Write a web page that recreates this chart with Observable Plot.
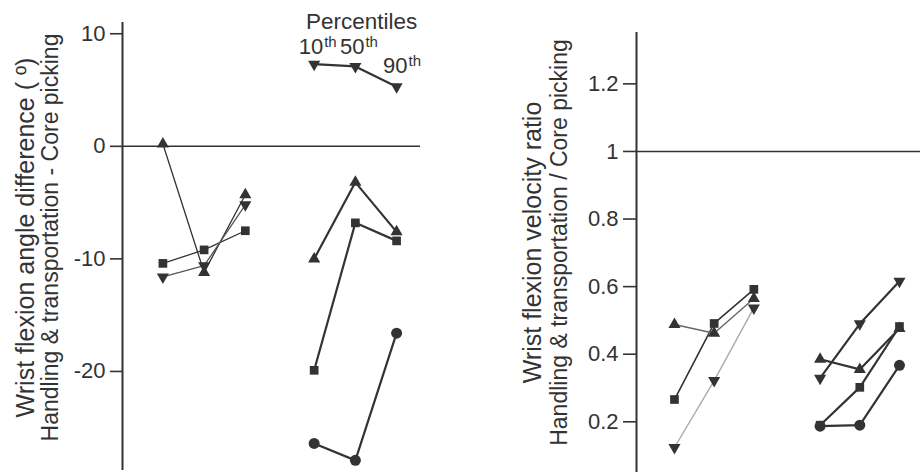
<!DOCTYPE html>
<html>
<head>
<meta charset="utf-8">
<script src="https://cdn.jsdelivr.net/npm/d3@7"></script>
<script src="https://cdn.jsdelivr.net/npm/@observablehq/plot@0.6"></script>
<style>
  body { margin: 0; background: #fff; }
  #wrap { display: flex; width: 920px; height: 472px; overflow: hidden; }
  svg { font-family: "Liberation Sans", Arial, sans-serif; }
  .tick-plot g[aria-label="y-axis tick label"] { font-size: 22px; }
</style>
</head>
<body>
<div id="wrap"></div>
<script>
// ---- categories ----
const percentiles = ["10th", "50th", "90th"];
const groups = ["A", "B"];

// ---- left panel: wrist flexion angle difference (deg) ----
const angleTicks = [10, 0, -10, -20];
const angleA_up     = [0.2, -11.2, -4.3];
const angleA_down   = [-11.6, -10.6, -5.2];
const angleA_square = [-10.4, -9.2, -7.5];
const angleB_down   = [7.3, 7.1, 5.3];
const angleB_up     = [-10.0, -3.2, -7.6];
const angleB_square = [-19.9, -6.8, -8.4];
const angleB_circle = [-26.4, -27.9, -16.6];

// ---- right panel: wrist flexion velocity ratio ----
const ratioTicks = [0.2, 0.4, 0.6, 0.8, 1, 1.2];
const ratioA_up     = [0.488, 0.462, 0.565];
const ratioA_square = [0.266, 0.491, 0.592];
const ratioA_down   = [0.124, 0.322, 0.537];
const ratioB_down   = [0.329, 0.490, 0.616];
const ratioB_up     = [0.385, 0.355, 0.476];
const ratioB_square = [0.190, 0.302, 0.482];
const ratioB_circle = [0.187, 0.190, 0.367];

// ---- layout helpers ----
const groupGap = 3.67;
const pos = (g, i) => groups.indexOf(g) * groupGap + i;
function rows(values, group, marker) {
  return values.map((v, i) => ({x: pos(group, i), y: v, group, marker, pct: percentiles[i], id: group + "-" + marker}));
}

const ink = "#333";
const font = "Liberation Sans, Arial, sans-serif";

function dots(data) {
  return [
    Plot.dot(data.filter(d => d.marker === "up"), {x: "x", y: "y", symbol: "triangle", r: 4.5, fill: ink, stroke: null}),
    Plot.dot(data.filter(d => d.marker === "down"), {x: "x", y: "y", symbol: "triangle", rotate: 180, r: 4.5, fill: ink, stroke: null}),
    Plot.dot(data.filter(d => d.marker === "square"), {x: "x", y: "y", symbol: "square", r: 4.9, fill: ink, stroke: null}),
    Plot.dot(data.filter(d => d.marker === "circle"), {x: "x", y: "y", symbol: "circle", r: 5.5, fill: ink, stroke: null})
  ];
}
function line(data, id, stroke, width) {
  return Plot.line(data.filter(d => d.id === id), {x: "x", y: "y", stroke, strokeWidth: width});
}
function yTitle(text, dx, dy, size) {
  return Plot.text([text], {frameAnchor: "left", text: d => d, rotate: -90, dx, dy, fontSize: size, fill: ink, textAnchor: "middle", lineAnchor: "middle"});
}

// ================= LEFT =================
const leftData = [
  ...rows(angleA_up, "A", "up"), ...rows(angleA_down, "A", "down"), ...rows(angleA_square, "A", "square"),
  ...rows(angleB_down, "B", "down"), ...rows(angleB_up, "B", "up"), ...rows(angleB_square, "B", "square"), ...rows(angleB_circle, "B", "circle")
];
const leftX = [-0.98, 6.25];
const leftY = [-28.8, 11.0];
const pctLabelX = percentiles.map((p, i) => ({x: pos("B", i), p}));

const left = Plot.plot({
  width: 460, height: 472,
  className: "tick-plot",
  marginLeft: 122, marginRight: 40, marginTop: 22, marginBottom: 2,
  style: {fontFamily: font, fontSize: "22px", color: ink, background: "#fff", overflow: "visible"},
  x: {domain: leftX, axis: null},
  y: {domain: leftY, axis: null},
  marks: [
    Plot.ruleY([0], {stroke: ink, strokeWidth: 1.6}),
    Plot.ruleX([leftX[0]], {stroke: ink, strokeWidth: 2}),
    Plot.axisY({ticks: angleTicks, tickSize: 12, tickPadding: 5, tickFormat: d => d < 0 ? "-" + Math.abs(d) : String(d), fontSize: 22, stroke: ink, strokeWidth: 1.6, fill: ink, label: null}),
    line(leftData, "A-square", ink, 1.3),
    line(leftData, "A-up", ink, 1.3),
    line(leftData, "A-down", "#555", 1.3),
    line(leftData, "B-down", ink, 2.2),
    line(leftData, "B-up", ink, 2.2),
    line(leftData, "B-square", ink, 2.2),
    line(leftData, "B-circle", ink, 2.2),
    ...dots(leftData),
    yTitle("Wrist flexion angle difference ( º)", -97, -9, 25),
    yTitle("Handling & transportation - Core picking", -72, -9, 23),
    // percentile annotation
    Plot.text(["Percentiles"], {x: pos("B", 1) + 0.15, frameAnchor: "top", text: d => d, dy: 6, fontSize: 22.5, fill: ink, textAnchor: "middle", lineAnchor: "bottom"}),
    Plot.text(pctLabelX.slice(0, 2), {x: "x", frameAnchor: "top", text: d => d.p.slice(0, 2), textAnchor: "end", dx: 9, dy: 31, fontSize: 22, fill: ink, lineAnchor: "bottom"}),
    Plot.text(pctLabelX.slice(0, 2), {x: "x", frameAnchor: "top", text: d => d.p.slice(2), textAnchor: "start", dx: 10, dy: 24, fontSize: 15, fill: ink, lineAnchor: "bottom"}),
    Plot.text(pctLabelX.slice(2), {x: "x", frameAnchor: "top", text: d => d.p.slice(0, 2), textAnchor: "end", dx: 11, dy: 50, fontSize: 22, fill: ink, lineAnchor: "bottom"}),
    Plot.text(pctLabelX.slice(2), {x: "x", frameAnchor: "top", text: d => d.p.slice(2), textAnchor: "start", dx: 12, dy: 43, fontSize: 15, fill: ink, lineAnchor: "bottom"})
  ]
});

// ================= RIGHT =================
const rightData = [
  ...rows(ratioA_up, "A", "up"), ...rows(ratioA_square, "A", "square"), ...rows(ratioA_down, "A", "down"),
  ...rows(ratioB_down, "B", "down"), ...rows(ratioB_up, "B", "up"), ...rows(ratioB_square, "B", "square"), ...rows(ratioB_circle, "B", "circle")
];
const rightX = [-0.957, 6.2];
const rightY = [0.05, 1.352];

const right = Plot.plot({
  width: 460, height: 472,
  className: "tick-plot",
  marginLeft: 176, marginRight: 0, marginTop: 32, marginBottom: 0,
  style: {fontFamily: font, fontSize: "22px", color: ink, background: "#fff", overflow: "visible"},
  x: {domain: rightX, axis: null},
  y: {domain: rightY, axis: null},
  marks: [
    Plot.ruleY([1], {stroke: ink, strokeWidth: 1.6}),
    Plot.ruleX([rightX[0]], {stroke: ink, strokeWidth: 2}),
    Plot.axisY({ticks: ratioTicks, tickSize: 13, tickPadding: 5, tickFormat: d => String(d), fontSize: 22, stroke: ink, strokeWidth: 1.6, fill: ink, label: null}),
    line(rightData, "A-square", ink, 1.6),
    line(rightData, "A-up", "#666", 1.4),
    line(rightData, "A-down", "#aaa", 1.4),
    line(rightData, "B-down", ink, 2.2),
    line(rightData, "B-up", ink, 2.2),
    line(rightData, "B-square", ink, 2.2),
    line(rightData, "B-circle", ink, 2.2),
    ...dots(rightData),
    yTitle("Wrist flexion velocity ratio", -104, -10, 25),
    yTitle("Handling & transportation / Core picking", -77, -10, 23)
  ]
});

document.getElementById("wrap").append(left, right);
</script>
</body>
</html>
